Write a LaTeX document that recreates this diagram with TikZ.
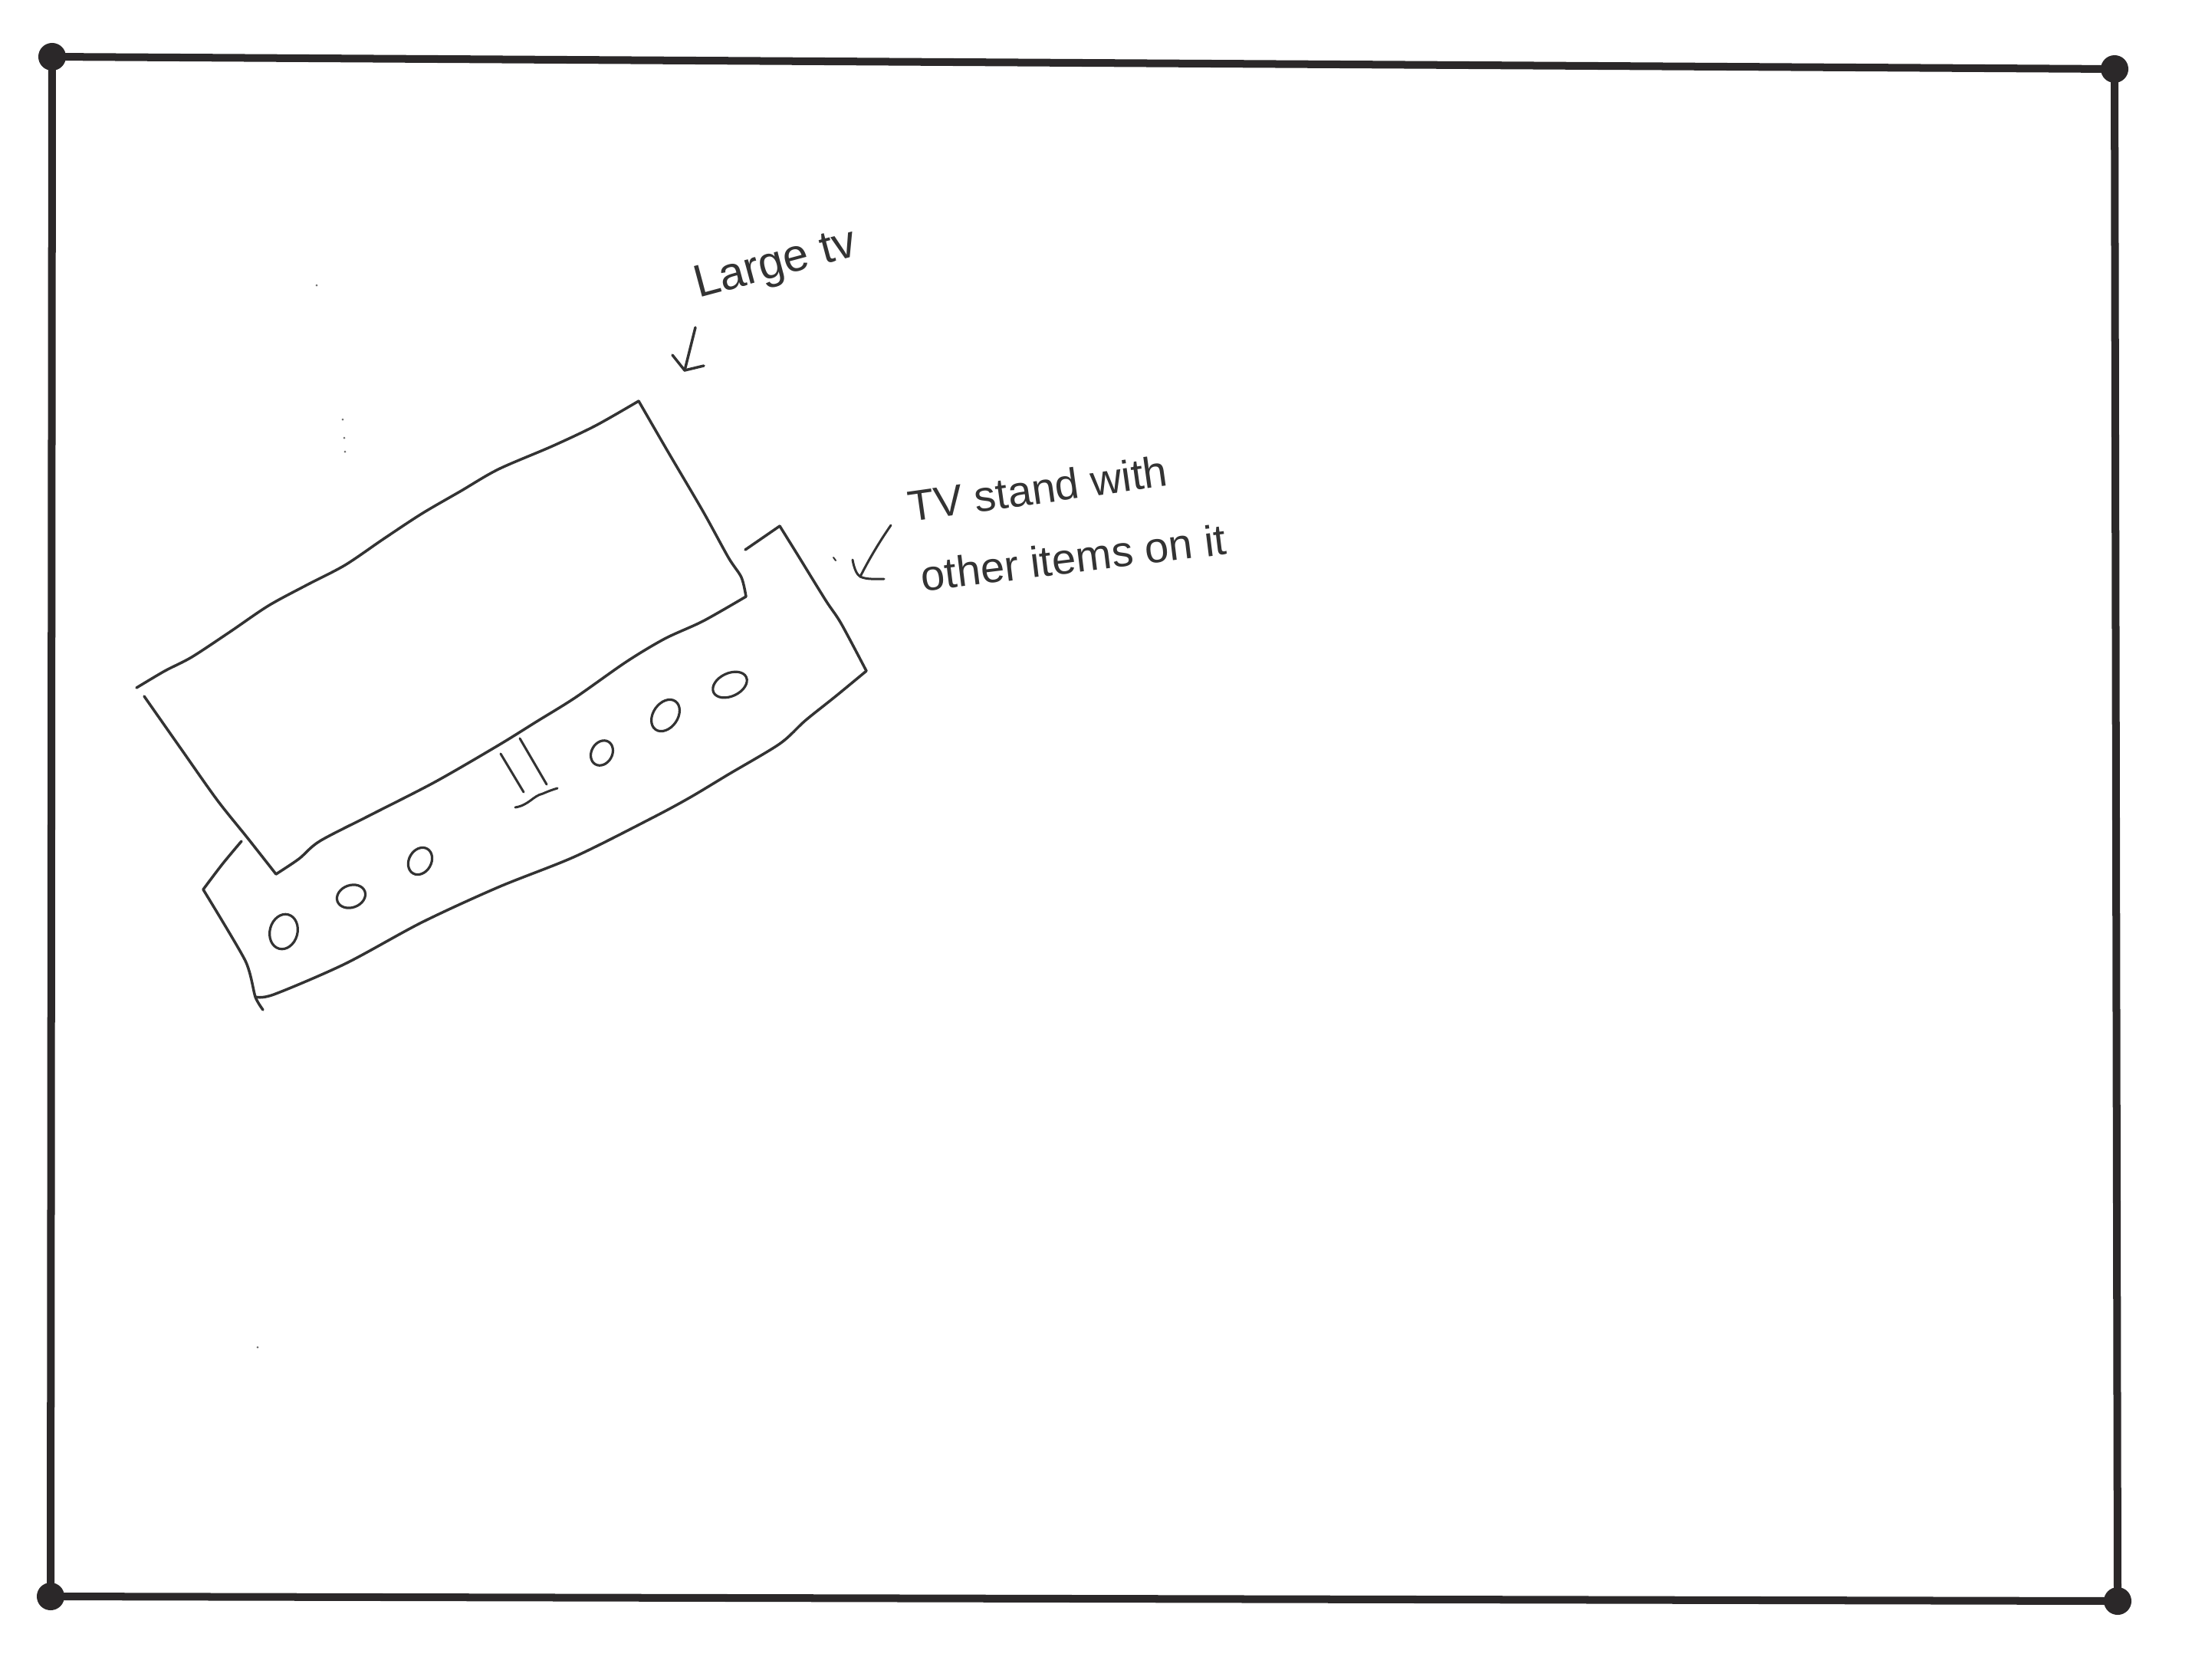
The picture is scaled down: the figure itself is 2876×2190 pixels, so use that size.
\documentclass[tikz,border=0pt]{standalone}
\usepackage{fontspec}
\setmainfont{Liberation Sans}
\usetikzlibrary{shapes.geometric}
\definecolor{ink}{HTML}{2B2829}
\definecolor{pen}{HTML}{333333}
\begin{document}
\begin{tikzpicture}[x=0.01cm,y=-0.01cm,
  frame/.style={line width=0.1cm, draw=ink, line cap=round, line join=round},
  corner/.style={circle, fill=ink, inner sep=0pt, minimum size=0.36cm},
  sketch/.style={line width=0.035cm, draw=pen, line cap=round, line join=round},
  knob/.style={ellipse, draw=pen, line width=0.032cm, inner sep=0pt},
  speck/.style={circle, fill=pen!70, inner sep=0pt, minimum size=0.03cm},
  hand/.style={text=pen, font=\fontsize{16}{19}\selectfont, inner sep=0pt}]
\useasboundingbox[fill=white] (0,0) rectangle (2876,2190);

% room frame with corner dots
\node[corner] (tl) at (68,74) {};
\node[corner] (tr) at (2758,90) {};
\node[corner] (br) at (2762,2088) {};
\node[corner] (bl) at (66,2082) {};
\draw[frame] (tl.center) -- (tr.center) -- (br.center) -- (bl.center) -- cycle;

% large TV
\draw[sketch] plot[smooth, tension=0.5] coordinates {(178,897) (215,875) (250,857) (300,824) (350,790) (400,763) (450,737) (500,703) (550,670) (600,641) (650,612) (720,582) (777,555) (833,523)};
\draw[sketch] plot[smooth, tension=0.5] coordinates {(833,523) (870,587) (917,667) (950,727) (967,753) (973,778)};
\draw[sketch] plot[smooth, tension=0.5] coordinates {(973,778) (917,810) (867,833) (817,863) (750,910) (700,941) (650,972) (567,1020) (483,1063) (417,1097) (390,1120) (360,1140)};
\draw[sketch] plot[smooth, tension=0.5] coordinates {(360,1140) (323,1093) (283,1043) (235,975) (188,908)};

% TV stand
\draw[sketch] (972,717) -- (1017,686);
\draw[sketch] plot[smooth, tension=0.5] coordinates {(1017,686) (1040,723) (1077,783) (1097,813) (1130,875)};
\draw[sketch] plot[smooth, tension=0.5] coordinates {(1130,875) (1090,908) (1050,940) (1017,970) (950,1010) (900,1040) (850,1067) (750,1117) (650,1157) (550,1203) (450,1257) (357,1297) (333,1300)};
\draw[sketch] plot[smooth, tension=0.4] coordinates {(265,1160) (320,1253) (333,1300) (343,1317)};
\draw[sketch] plot[smooth, tension=0.5] coordinates {(315,1097) (290,1127) (265,1160)};

% items on the stand
\node[knob, minimum width=0.36cm, minimum height=0.46cm, rotate=-15] (k1) at (370,1215) {};
\node[knob, minimum width=0.38cm, minimum height=0.29cm, rotate=20] (k2) at (458,1169) {};
\node[knob, minimum width=0.29cm, minimum height=0.37cm, rotate=-30] (k3) at (548,1123) {};
\node[knob, minimum width=0.27cm, minimum height=0.34cm, rotate=-30] (k4) at (785,982) {};
\node[knob, minimum width=0.32cm, minimum height=0.45cm, rotate=-35] (k5) at (868,933) {};
\node[knob, minimum width=0.47cm, minimum height=0.30cm, rotate=25] (k6) at (952,893) {};
\draw[sketch, line width=0.03cm] (653,983) -- (683,1033);
\draw[sketch, line width=0.03cm] (678,963) -- (713,1023);
\draw[sketch, line width=0.03cm] (672,1053) .. controls (690,1050) and (695,1038) .. (708,1035) .. controls (715,1032) and (720,1030) .. (727,1028);

% labels
\node[hand, rotate=15] (lbltv) at (1012,347) {\fontsize{17}{20}\selectfont Large tv};
\node[hand, rotate=8] (lblstandA) at (1353,637) {TV stand with};
\node[hand, rotate=7] (lblstandB) at (1400,727) {other items on it};

% label arrows
\coordinate (tvs) at (907,427);
\coordinate (tvt) at (893,483);
\draw[sketch] (tvs) -- (tvt);
\draw[sketch] (877,463) -- (tvt) -- (918,477);
\coordinate (sts) at (1162,685);
\coordinate (stt) at (1122,752);
\draw[sketch, line width=0.03cm] (sts) .. controls (1148,705) and (1133,730) .. (stt);
\draw[sketch, line width=0.03cm] (1112,730) .. controls (1114,742) and (1118,750) .. (stt) .. controls (1130,756) and (1142,755) .. (1153,755);
\draw[sketch, line width=0.02cm] (1087,727) -- (1090,731);

% scanner specks
\node[speck] (s1) at (447,547) {};
\node[speck] (s2) at (449,571) {};
\node[speck] (s3) at (450,589) {};
\node[speck] (s4) at (413,372) {};
\node[speck] (s5) at (336,1757) {};
\end{tikzpicture}
\end{document}
